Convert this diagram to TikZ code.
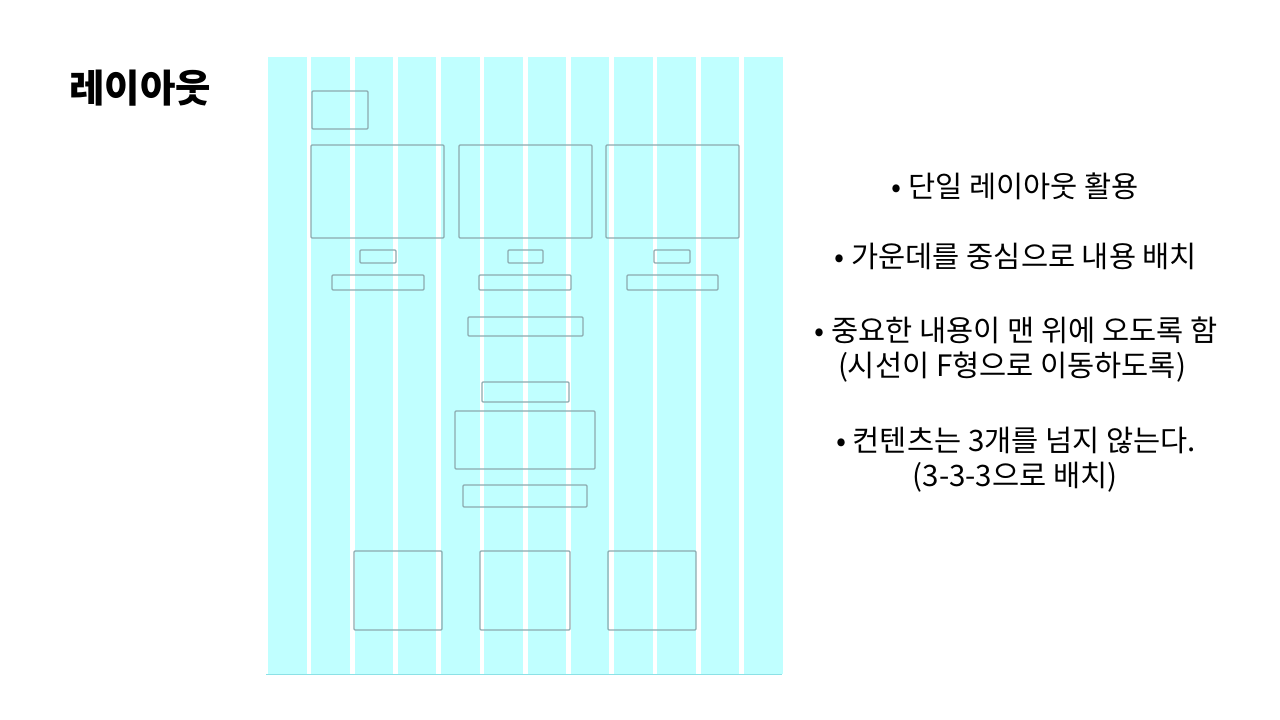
\documentclass[tikz,border=0pt]{standalone}
\usepackage{fontspec}
\newfontfamily\kr{Noto Sans CJK KR}
\definecolor{colfill}{RGB}{192,255,255}
\definecolor{boxline}{RGB}{140,170,175}
\definecolor{baseln}{RGB}{140,225,230}
\tikzset{
  colbar/.style={fill=colfill,draw=none},
  wire/.style={draw=boxline,line width=1.2pt,rounded corners=1pt,inner sep=0pt,fill=none},
  bullettext/.style={font=\kr\fontsize{29.5}{34}\selectfont,text=black,inner sep=0pt,anchor=center},
  titletext/.style={font=\kr\bfseries\fontsize{38.5}{44}\selectfont,text=black,inner sep=0pt,anchor=center}
}
\begin{document}
\begin{tikzpicture}[x=1pt,y=-1pt]
\useasboundingbox (0,0) rectangle (1280,720);
\fill[white] (0,0) rectangle (1280,720);
% columns
\foreach \i in {0,...,11}{
  \fill[colbar] ({268+\i*43.27},57) rectangle ({268+\i*43.27+38.6},674);
}
\draw[draw=baseln,line width=1pt] (266,674) -- (782,674);
% wireframe boxes
\draw[wire] (312,91) rectangle (368,129);
\draw[wire] (311,145) rectangle (444,238);
\draw[wire] (459,145) rectangle (592,238);
\draw[wire] (606,145) rectangle (739,238);
\draw[wire] (360,250) rectangle (396,263);
\draw[wire] (508,250) rectangle (543,263);
\draw[wire] (654,250) rectangle (690,263);
\draw[wire] (332,275) rectangle (424,290);
\draw[wire] (479,275) rectangle (571,290);
\draw[wire] (627,275) rectangle (718,290);
\draw[wire] (468,317) rectangle (583,336);
\draw[wire] (482,382) rectangle (569,402);
\draw[wire] (455,411) rectangle (595,469);
\draw[wire] (463,485) rectangle (587,507);
\draw[wire] (354,551) rectangle (442,630);
\draw[wire] (480,551) rectangle (570,630);
\draw[wire] (608,551) rectangle (696,630);
% texts
\node[titletext] (title) at (140,88) {레이아웃};
\node[bullettext] (b1) at (1015,186) {• 단일 레이아웃 활용};
\node[bullettext] (b2) at (1016,256) {• 가운데를 중심으로 내용 배치};
\node[bullettext] (b3) at (1016,330) {• 중요한 내용이 맨 위에 오도록 함};
\node[bullettext] (b3b) at (1012,367) {(시선이 F형으로 이동하도록)};
\node[bullettext] (b4) at (1016,440) {• 컨텐츠는 3개를 넘지 않는다.};
\node[bullettext] (b4b) at (1015,477) {(3-3-3으로 배치)};
\end{tikzpicture}
\end{document}
